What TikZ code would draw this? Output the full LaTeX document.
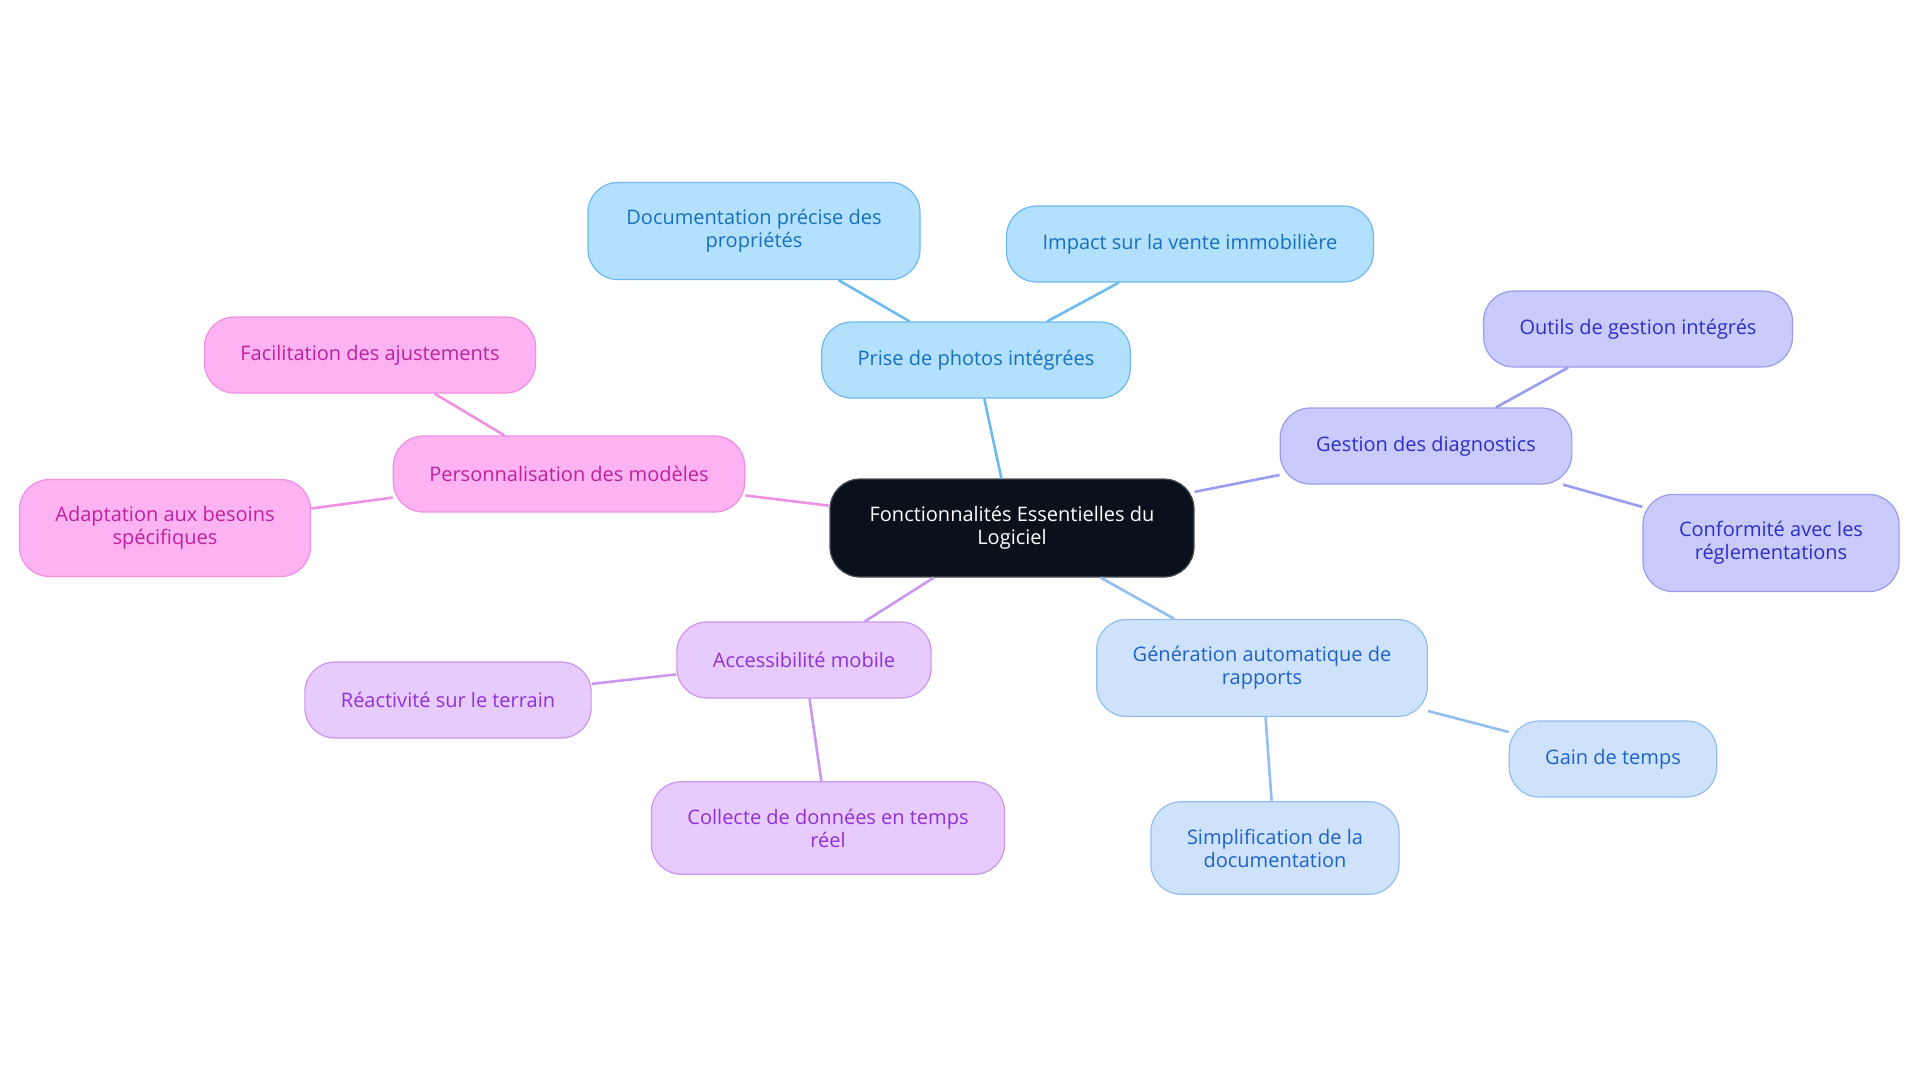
\documentclass[tikz,border=0pt]{standalone}
\usepackage{fontspec}
\setmainfont{Open Sans}
\usetikzlibrary{arrows.meta}

\definecolor{root_fill}{HTML}{0B111A}
\definecolor{root_line}{HTML}{4A4F57}
\definecolor{sky_fill}{HTML}{B3E0FD}
\definecolor{sky_line}{HTML}{6DBAF0}
\definecolor{sky_text}{HTML}{1670BE}
\definecolor{indigo_fill}{HTML}{C9CBFC}
\definecolor{indigo_line}{HTML}{9A9CF0}
\definecolor{indigo_text}{HTML}{2C2EC4}
\definecolor{pink_fill}{HTML}{FDB3F1}
\definecolor{pink_line}{HTML}{F090E2}
\definecolor{pink_text}{HTML}{C0209E}
\definecolor{lilac_fill}{HTML}{E8CBFD}
\definecolor{lilac_line}{HTML}{CB96F0}
\definecolor{lilac_text}{HTML}{9030D6}
\definecolor{pale_fill}{HTML}{CEE3FB}
\definecolor{pale_line}{HTML}{92BEF0}
\definecolor{pale_text}{HTML}{1E62C6}

\begin{document}
\begin{tikzpicture}[x=0.5pt, y=-0.5pt,
    box/.style={rounded corners=15pt, align=center, inner xsep=18pt, inner ysep=13.5pt,
        minimum height=38pt, line width=0.6pt, font=\fontsize{10}{11.5}\selectfont},
    rootbox/.style={box, fill=root_fill, draw=root_line, text=white},
    skybox/.style={box, fill=sky_fill, draw=sky_line, text=sky_text},
    indigobox/.style={box, fill=indigo_fill, draw=indigo_line, text=indigo_text},
    pinkbox/.style={box, fill=pink_fill, draw=pink_line, text=pink_text},
    lilacbox/.style={box, fill=lilac_fill, draw=lilac_line, text=lilac_text},
    palebox/.style={box, fill=pale_fill, draw=pale_line, text=pale_text},
    link/.style={line width=1.3pt}]
    \useasboundingbox (0,0) rectangle (1920,1083);

    \node[rootbox, minimum width=182pt, minimum height=49pt] (root) at (1012,528) {Fonctionnalités Essentielles du\\Logiciel};

    % Photos
    \node[skybox] (prise_photos) at (976,360) {Prise de photos intégrées};
    \node[skybox, minimum width=166pt] (doc_precise) at (754,231) {Documentation précise des\\propriétés};
    \node[skybox] (impact_vente) at (1190,244) {Impact sur la vente immobilière};

    % Diagnostics
    \node[indigobox] (gestion_diag) at (1426,446) {Gestion des diagnostics};
    \node[indigobox] (outils_gestion) at (1638,329) {Outils de gestion intégrés};
    \node[indigobox] (conformite) at (1771,543) {Conformité avec les\\réglementations};

    % Modeles
    \node[pinkbox] (perso_modeles) at (569,474) {Personnalisation des modèles};
    \node[pinkbox] (facilitation) at (370,355) {Facilitation des ajustements};
    \node[pinkbox] (adaptation) at (165,528) {Adaptation aux besoins\\spécifiques};

    % Mobile
    \node[lilacbox] (acces_mobile) at (804,660) {Accessibilité mobile};
    \node[lilacbox] (reactivite) at (448,700) {Réactivité sur le terrain};
    \node[lilacbox] (collecte) at (828,828) {Collecte de données en temps\\réel};

    % Rapports
    \node[palebox] (generation) at (1262,668) {Génération automatique de\\rapports};
    \node[palebox] (gain_temps) at (1613,759) {Gain de temps};
    \node[palebox] (simplification) at (1275,848) {Simplification de la\\documentation};

    \draw[link, sky_line] (root) -- (prise_photos);
    \draw[link, sky_line] (prise_photos) -- (doc_precise);
    \draw[link, sky_line] (prise_photos) -- (impact_vente);
    \draw[link, indigo_line] (root) -- (gestion_diag);
    \draw[link, indigo_line] (gestion_diag) -- (outils_gestion);
    \draw[link, indigo_line] (gestion_diag) -- (conformite);
    \draw[link, pink_line] (root) -- (perso_modeles);
    \draw[link, pink_line] (perso_modeles) -- (facilitation);
    \draw[link, pink_line] (perso_modeles) -- (adaptation);
    \draw[link, lilac_line] (root) -- (acces_mobile);
    \draw[link, lilac_line] (acces_mobile) -- (reactivite);
    \draw[link, lilac_line] (acces_mobile) -- (collecte);
    \draw[link, pale_line] (root) -- (generation);
    \draw[link, pale_line] (generation) -- (gain_temps);
    \draw[link, pale_line] (generation) -- (simplification);
\end{tikzpicture}
\end{document}
